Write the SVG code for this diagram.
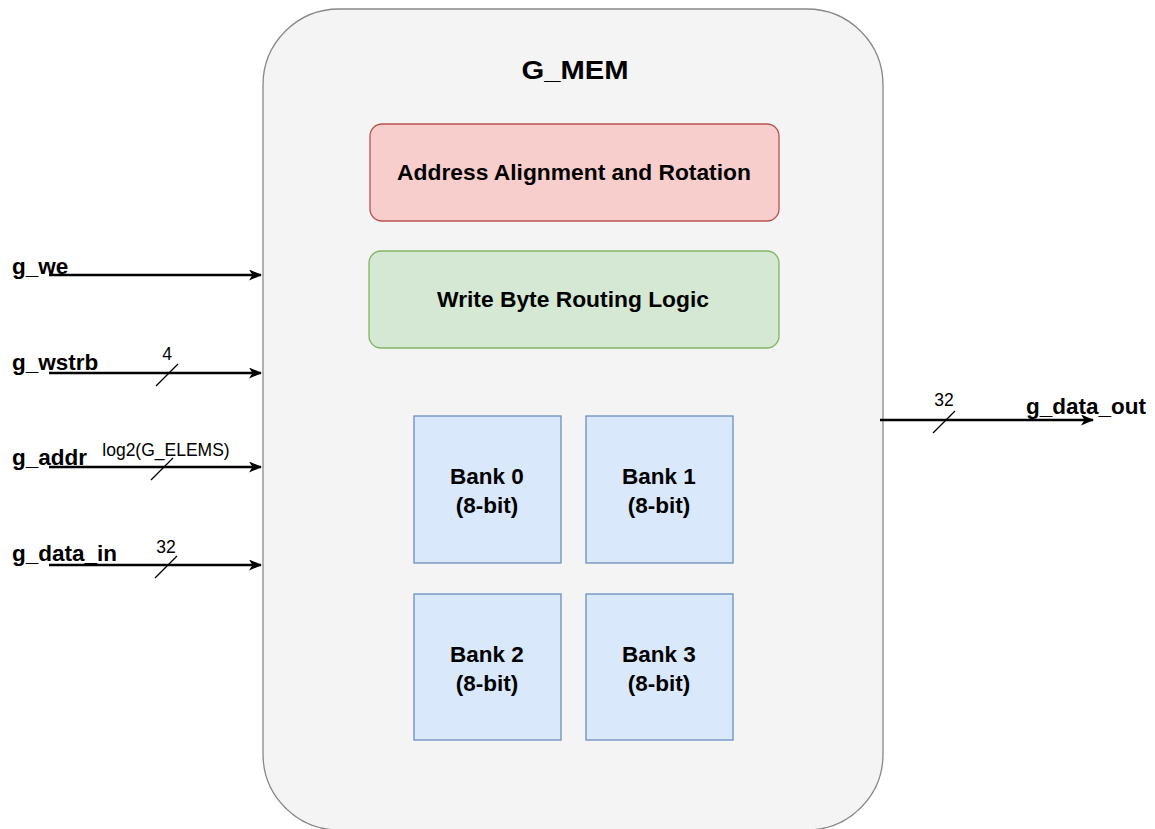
<svg xmlns="http://www.w3.org/2000/svg" width="1155" height="829" viewBox="0 0 1155 829">
  <style>
    .lbl { font-family: "Liberation Sans", Arial, sans-serif; font-weight: bold; fill: #000; }
    .port { font-size: 22.5px; }
    .width { font-family: "Liberation Sans", Arial, sans-serif; font-size: 17.5px; fill: #000; text-anchor: middle; }
    .wire { stroke: #000; stroke-width: 2.5; fill: none; }
    .slash { stroke: #000; stroke-width: 1.3; fill: none; }
    .bank rect { fill: #dae8fc; stroke: #6c8ebf; stroke-width: 1.3; }
    .bank text { font-size: 22.5px; text-anchor: middle; }
  </style>
  <defs>
    <marker id="arrow" viewBox="0 0 13 11" refX="12" refY="5.5" markerWidth="13" markerHeight="11" markerUnits="userSpaceOnUse" orient="auto">
      <path d="M0,0 L13,5.5 L0,11 L3.5,5.5 Z" fill="#000"/>
    </marker>
  </defs>
  <rect width="1155" height="829" fill="#fff"/>

  <g id="g_mem">
    <rect x="263" y="9" width="620" height="821" rx="76" ry="76" fill="#f4f4f4" stroke="#888" stroke-width="1.3"/>
    <text class="lbl" x="575" y="79" font-size="26" text-anchor="middle" textLength="107" lengthAdjust="spacingAndGlyphs">G_MEM</text>
  </g>

  <g id="addr_align">
    <rect x="370" y="124" width="409" height="97" rx="12" fill="#f8cecc" stroke="#b85450" stroke-width="1.3"/>
    <text class="lbl" x="574" y="180" font-size="22.8" text-anchor="middle">Address Alignment and Rotation</text>
  </g>

  <g id="write_routing">
    <rect x="369" y="251" width="410" height="97" rx="12" fill="#d5e8d4" stroke="#82b366" stroke-width="1.3"/>
    <text class="lbl" x="573" y="307" font-size="22.8" text-anchor="middle">Write Byte Routing Logic</text>
  </g>

  <g id="bank0" class="bank">
    <rect x="414" y="416" width="147" height="147"/>
    <text class="lbl" x="487" y="484">Bank 0</text>
    <text class="lbl" x="487" y="513">(8-bit)</text>
  </g>
  <g id="bank1" class="bank">
    <rect x="586" y="416" width="147" height="147"/>
    <text class="lbl" x="659" y="484">Bank 1</text>
    <text class="lbl" x="659" y="513">(8-bit)</text>
  </g>
  <g id="bank2" class="bank">
    <rect x="414" y="594" width="147" height="146"/>
    <text class="lbl" x="487" y="662">Bank 2</text>
    <text class="lbl" x="487" y="691">(8-bit)</text>
  </g>
  <g id="bank3" class="bank">
    <rect x="586" y="594" width="147" height="146"/>
    <text class="lbl" x="659" y="662">Bank 3</text>
    <text class="lbl" x="659" y="691">(8-bit)</text>
  </g>

  <g id="connectors">
    <line class="wire" x1="49" y1="275" x2="261" y2="275" marker-end="url(#arrow)"/>
    <line class="wire" x1="49" y1="373" x2="261" y2="373" marker-end="url(#arrow)"/>
    <line class="slash" x1="156" y1="386" x2="178" y2="364"/>
    <line class="wire" x1="49" y1="467" x2="261" y2="467" marker-end="url(#arrow)"/>
    <line class="slash" x1="151" y1="480" x2="173" y2="458"/>
    <line class="wire" x1="49" y1="565" x2="261" y2="565" marker-end="url(#arrow)"/>
    <line class="slash" x1="155" y1="578" x2="177" y2="556"/>
    <line class="wire" x1="880" y1="420" x2="1093" y2="420" marker-end="url(#arrow)"/>
    <line class="slash" x1="933" y1="433" x2="955" y2="411"/>
  </g>

  <g id="port_labels">
    <text class="lbl port" x="12" y="274">g_we</text>
    <text class="lbl port" x="12" y="370">g_wstrb</text>
    <text class="width" x="167" y="360">4</text>
    <text class="lbl port" x="12" y="465">g_addr</text>
    <text class="width" x="166" y="456">log2(G_ELEMS)</text>
    <text class="lbl port" x="12" y="561">g_data_in</text>
    <text class="width" x="166" y="553">32</text>
    <text class="lbl port" x="1026" y="414">g_data_out</text>
    <text class="width" x="944" y="406">32</text>
  </g>
</svg>
